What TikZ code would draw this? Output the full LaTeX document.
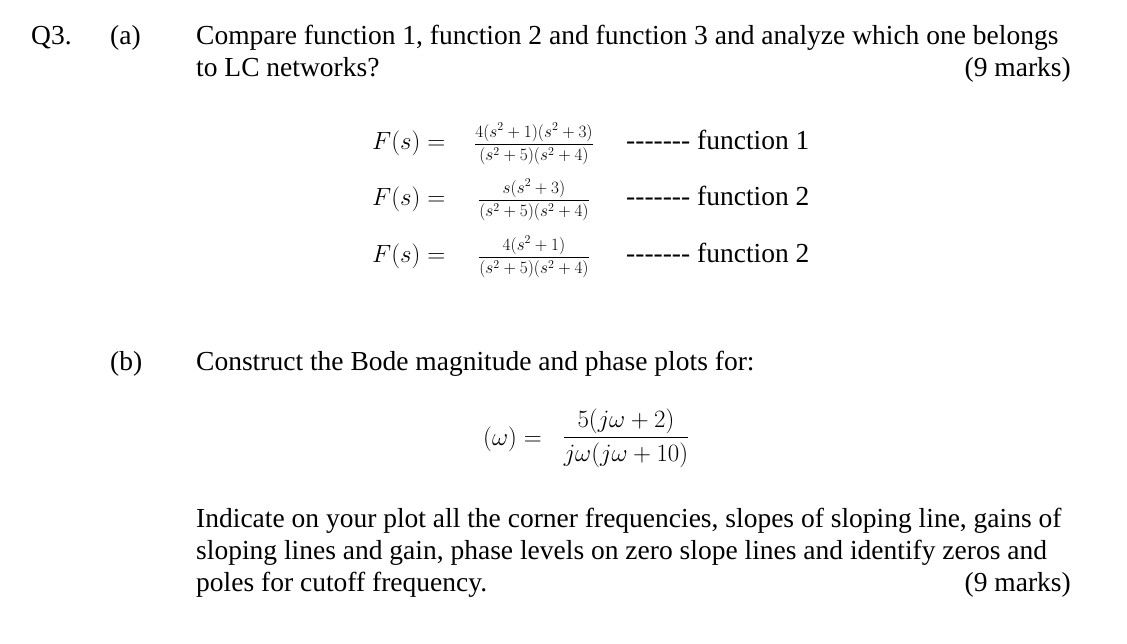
\documentclass[tikz,border=0pt]{standalone}
\usepackage{amsmath}
\usepackage{fontspec}
\setmainfont{Liberation Serif}
\begin{document}
\begin{tikzpicture}[x=1pt,y=-1pt,
  txt/.style={anchor=base west,inner sep=0,font=\fontsize{27.5}{30}\selectfont},
  rtxt/.style={anchor=base east,inner sep=0,font=\fontsize{27.5}{30}\selectfont},
  fr/.style={anchor=center,inner sep=0,font=\fontsize{18.5}{20}\selectfont},
  eq/.style={anchor=base west,inner sep=0,font=\fontsize{27}{30}\selectfont}]
\useasboundingbox (0,0) rectangle (1127,644);
\node[txt] (q) at (31,45) {Q3.};
\node[txt] (a) at (110,45) {(a)};
\node[txt] (l1) at (196,45) {Compare function 1, function 2 and function 3 and analyze which one belongs};
\node[txt] (l2) at (196,77) {to LC networks?};
\node[rtxt] (m1) at (1071,77) {(9 marks)};
\node[eq] (f1) at (372,150) {$F(s)=$};
\node[fr] (r1) at (534,144) {$\dfrac{4(s^2+1)(s^2+3)}{(s^2+5)(s^2+4)}$};
\node[txt] (t1) at (626,150) {-{}-{}-{}-{}-{}-{}- function 1};
\node[eq] (f2) at (372,206) {$F(s)=$};
\node[fr] (r2) at (534,200) {$\dfrac{s(s^2+3)}{(s^2+5)(s^2+4)}$};
\node[txt] (t2) at (626,206) {-{}-{}-{}-{}-{}-{}- function 2};
\node[eq] (f3) at (372,263) {$F(s)=$};
\node[fr] (r3) at (534,257) {$\dfrac{4(s^2+1)}{(s^2+5)(s^2+4)}$};
\node[txt] (t3) at (626,263) {-{}-{}-{}-{}-{}-{}- function 2};
\node[txt] (b) at (110,370) {(b)};
\node[txt] (b1) at (196,370) {Construct the Bode magnitude and phase plots for:};
\node[eq] (w) at (483,445) {$(\omega)=$};
\node[anchor=center,inner sep=0,font=\fontsize{27}{30}\selectfont] (rb) at (626,438) {$\dfrac{5(j\omega+2)}{j\omega(j\omega+10)}$};
\node[txt] (i1) at (196,527) {Indicate on your plot all the corner frequencies, slopes of sloping line, gains of};
\node[txt] (i2) at (196,559) {sloping lines and gain, phase levels on zero slope lines and identify zeros and};
\node[txt] (i3) at (196,591) {poles for cutoff frequency.};
\node[rtxt] (m2) at (1071,591) {(9 marks)};
\end{tikzpicture}
\end{document}
